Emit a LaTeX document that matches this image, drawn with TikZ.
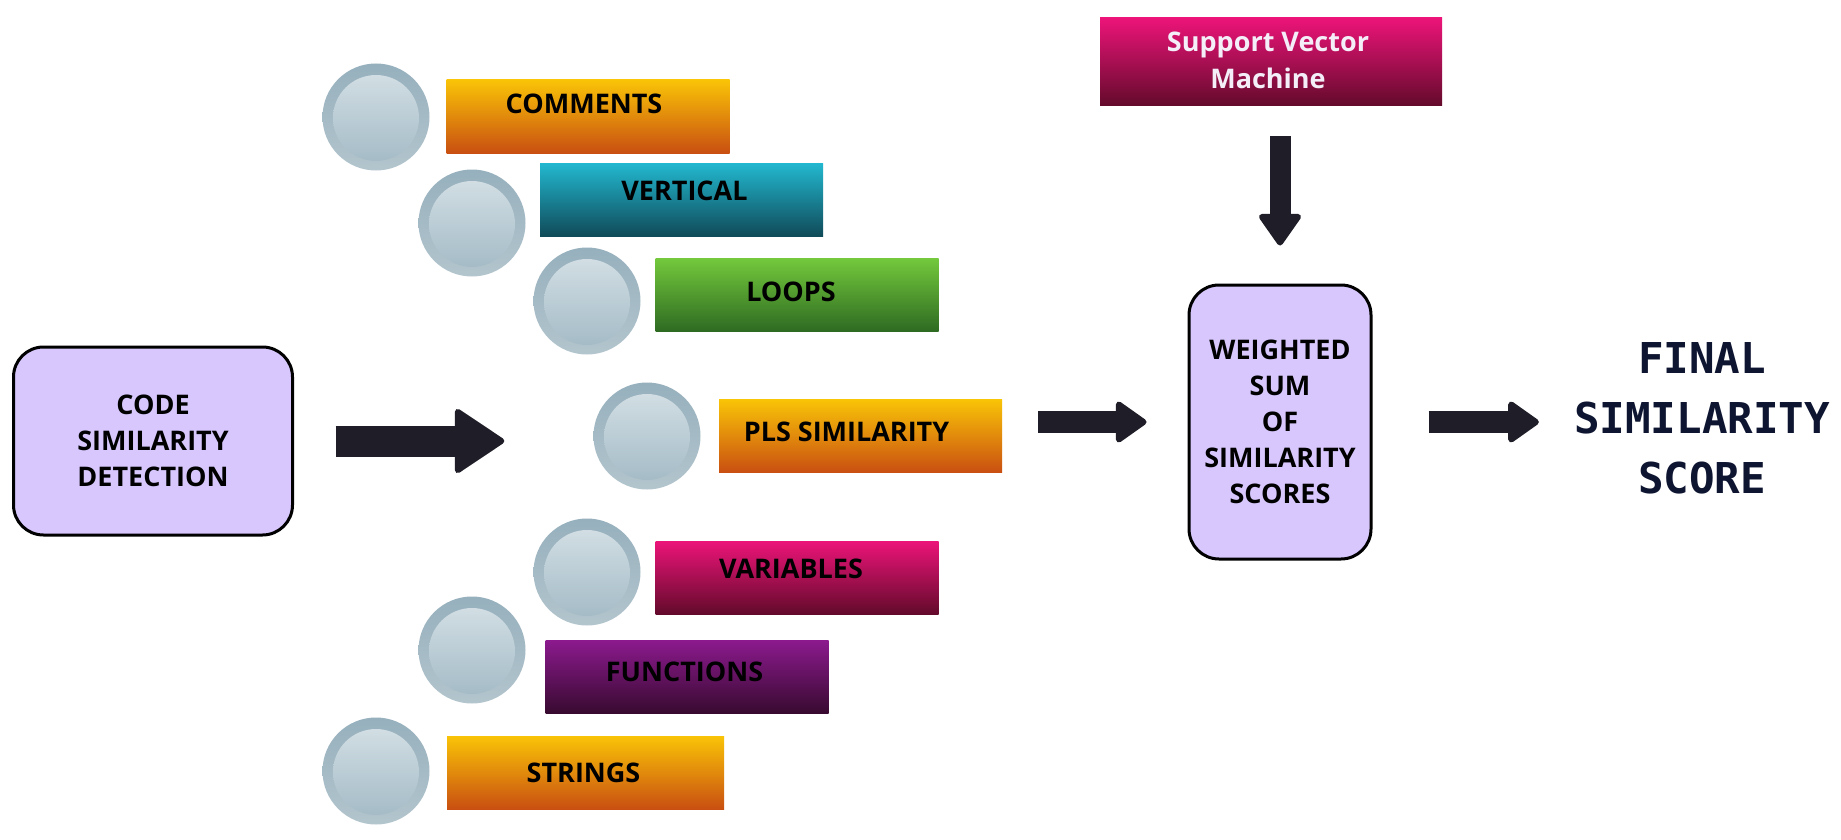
\documentclass[tikz,border=0pt]{standalone}
\usepackage{fontspec}
\setmainfont{Open Sans}
\newfontfamily\scoremono{DejaVu Sans Mono}
\usetikzlibrary{arrows.meta}

% bar gradients
\definecolor{amberTop}{HTML}{F9C407}
\definecolor{amberBot}{HTML}{C94F11}
\definecolor{tealTop}{HTML}{22B8D0}
\definecolor{tealBot}{HTML}{104B59}
\definecolor{leafTop}{HTML}{74C93C}
\definecolor{leafBot}{HTML}{2E6B22}
\definecolor{roseTop}{HTML}{EC1479}
\definecolor{roseBot}{HTML}{630A2B}
\definecolor{plumTop}{HTML}{8C1A8E}
\definecolor{plumBot}{HTML}{380A30}
% panels, discs, ink
\definecolor{lavender}{HTML}{D7C7FD}
\definecolor{ringTop}{HTML}{96B0BD}
\definecolor{ringBot}{HTML}{B3C5CD}
\definecolor{coreTop}{HTML}{D7E2E7}
\definecolor{coreBot}{HTML}{A0B8C4}
\definecolor{ink}{HTML}{1F1E28}
\definecolor{navy}{HTML}{0E1530}
\definecolor{paleText}{HTML}{F4EEF8}

\tikzset{
  bar/.style={rectangle, inner sep=0pt, minimum width=283pt, minimum height=73pt},
  amber/.style={bar, top color=amberTop, bottom color=amberBot},
  teal/.style={bar, top color=tealTop, bottom color=tealBot},
  leaf/.style={bar, top color=leafTop, bottom color=leafBot},
  rose/.style={bar, top color=roseTop, bottom color=roseBot},
  plum/.style={bar, top color=plumTop, bottom color=plumBot},
  lbl/.style={font=\fontsize{27}{36}\selectfont\bfseries, text=black, inner sep=0pt, align=center},
  disc/.style={circle, inner sep=0pt, minimum size=107pt,
    top color=ringTop, bottom color=ringBot,
    path picture={\shade[top color=coreTop, bottom color=coreBot]
      ([yshift=-1pt]path picture bounding box.center) circle[radius=43pt];}},
  panel/.style={rectangle, rounded corners=30pt, draw=black, line width=3pt,
    fill=lavender, align=center, inner sep=0pt,
    font=\fontsize{27}{36}\selectfont\bfseries},
  flow/.style n args={3}{draw=ink, line width=#1, line cap=butt,
    -{Triangle[width=#2, length=#3, round, line width=6pt]}},
}

\begin{document}
\begin{tikzpicture}[x=1pt, y=-1pt]
\fill[white] (0,0) rectangle (1841,840);
\useasboundingbox (0,0) rectangle (1841,840);

% source panel
\node[panel, minimum width=279pt, minimum height=188pt] (code) at (153,441)
  {CODE\\SIMILARITY\\DETECTION};

% feature discs
\node[disc] (c1) at (376,117) {};
\node[disc] (c2) at (472,223) {};
\node[disc] (c3) at (587,301) {};
\node[disc] (c4) at (647,436) {};
\node[disc] (c5) at (587,572) {};
\node[disc] (c6) at (472,650) {};
\node[disc] (c7) at (376,771) {};

% feature bars
\node[amber] (b1) at (588,116.5) {};
\node[teal]  (b2) at (681.5,199.5) {};
\node[leaf]  (b3) at (797,294.5) {};
\node[amber] (b4) at (860.5,436) {};
\node[rose]  (b5) at (797,577.5) {};
\node[plum]  (b6) at (687,676.5) {};
\node[amber, minimum width=277pt] (b7) at (585.5,772.5) {};

\node[lbl] (t1) at (584,104)   {COMMENTS};
\node[lbl] (t2) at (684.5,191) {VERTICAL};
\node[lbl] (t3) at (791,292)   {LOOPS};
\node[lbl] (t4) at (846.5,432) {PLS SIMILARITY};
\node[lbl] (t5) at (791,569)   {VARIABLES};
\node[lbl] (t6) at (684.5,671.5) {FUNCTIONS};
\node[lbl] (t7) at (583.5,773) {STRINGS};

% combiner and classifier
\node[panel, minimum width=182pt, minimum height=274pt] (wsum) at (1280,422)
  {WEIGHTED\\SUM\\OF\\SIMILARITY\\SCORES};
\node[rose, minimum width=342pt, minimum height=88pt] (svm) at (1271,62) {};
\node[lbl, text=paleText, font=\fontsize{27}{37}\selectfont\bfseries] (svmt) at (1268,60)
  {Support Vector\\Machine};

% result
\node[inner sep=0pt, align=center, text=navy,
  font=\fontsize{42.5}{60}\selectfont\scoremono\bfseries] (final) at (1702,418)
  {FINAL\\SIMILARITY\\SCORE};

% block arrows
\draw[flow={31pt}{68pt}{52pt}, shorten <=41.5pt, shorten >=89pt]
  (code.east) -- (code.east -| c4.west);
\draw[flow={22pt}{45pt}{33pt}, shorten <=36pt, shorten >=41pt]
  (b4.east |- wsum.west) -- (wsum.west);
\draw[flow={22pt}{45pt}{33pt}, shorten <=56pt, shorten >=35pt]
  (wsum.east) -- (final.west |- wsum.east);
\draw[flow={21pt}{46pt}{34pt}, shorten <=30pt, shorten >=38pt]
  (svm.south -| wsum.north) -- (wsum.north);
\end{tikzpicture}
\end{document}
